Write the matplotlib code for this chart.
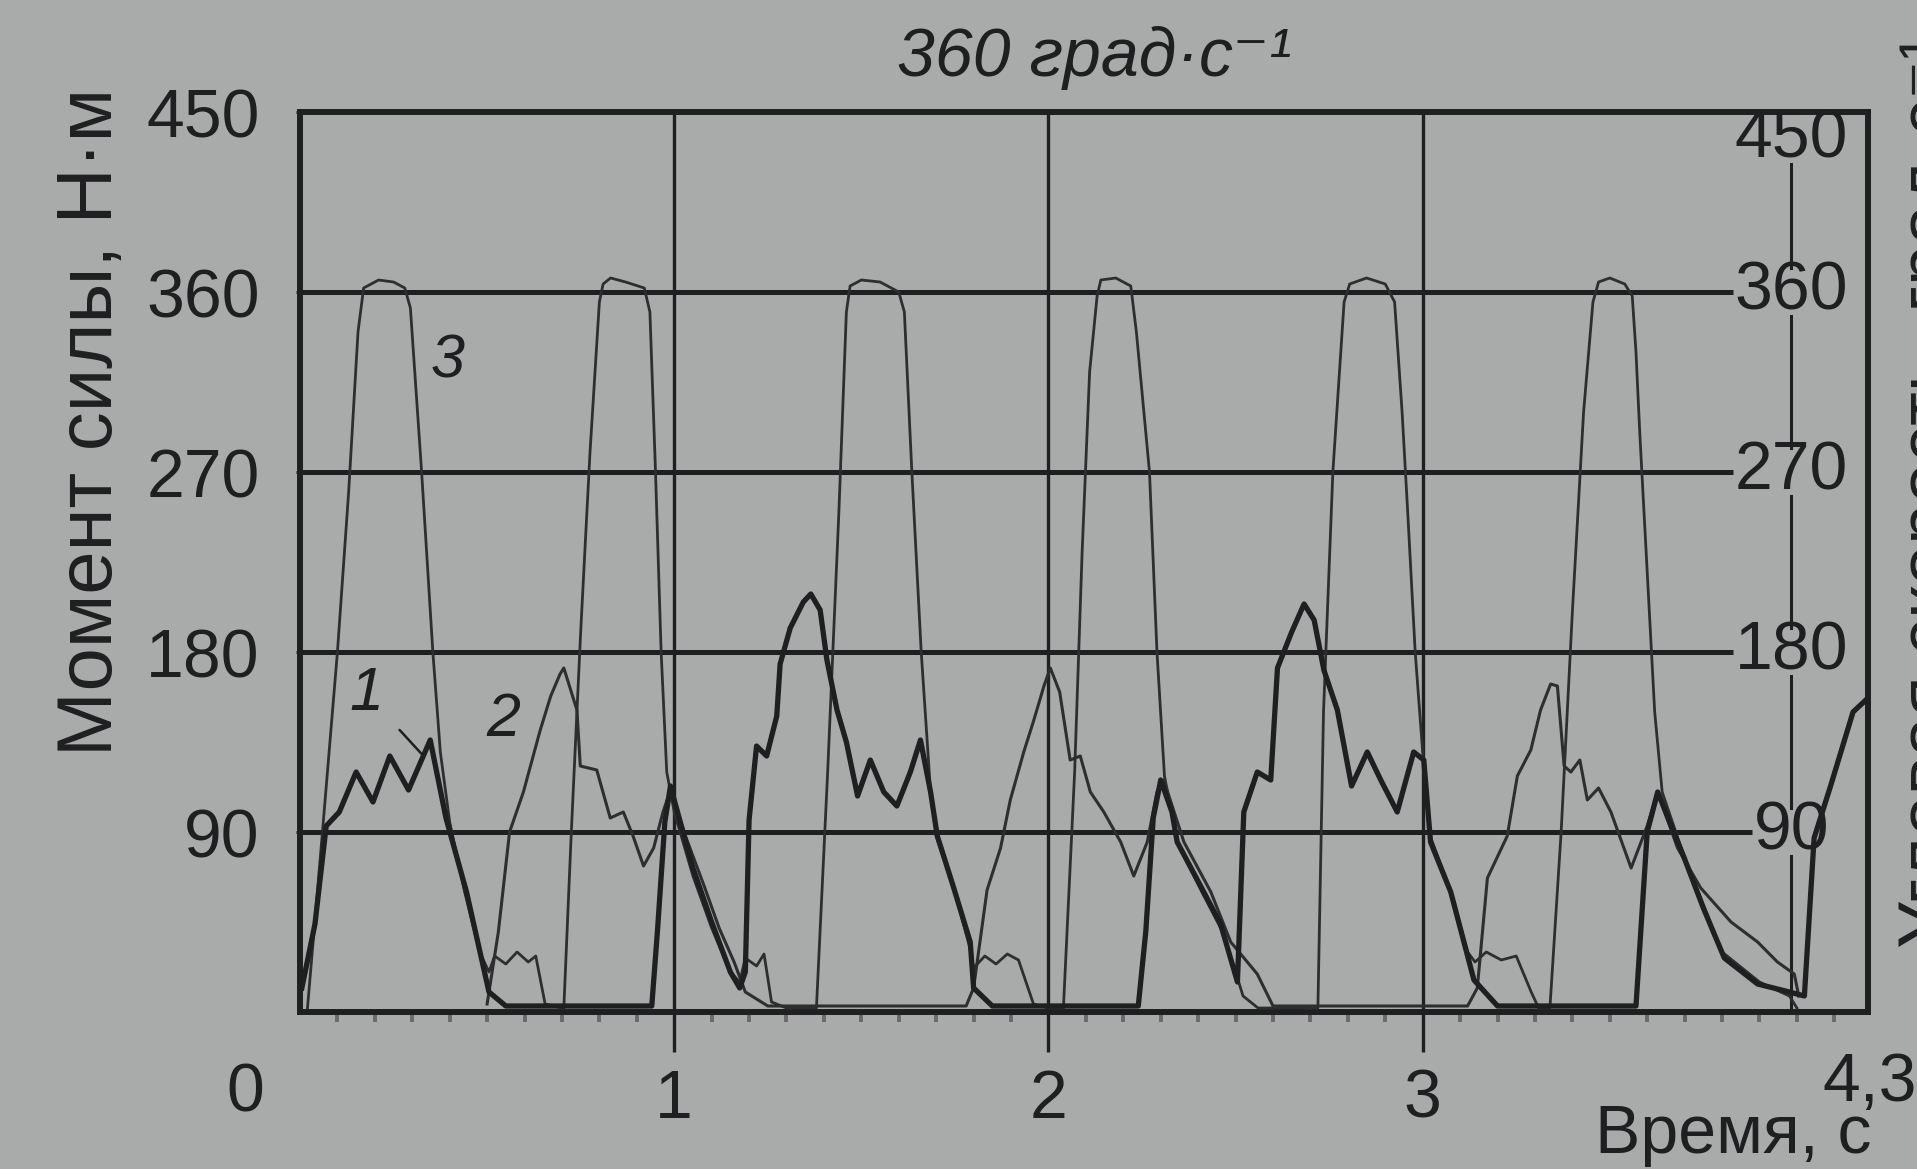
import numpy as np
import matplotlib
matplotlib.use('Agg')
import matplotlib.pyplot as plt

plt.rcParams['font.family'] = ['Liberation Sans', 'DejaVu Sans']

# --- values (time in s, values in N*m / deg/s) ---
# curve 1: thick trace (extension torque)
t1 = [0.005, 0.04, 0.07, 0.105, 0.15, 0.195, 0.24, 0.29, 0.348, 0.39, 0.445, 0.505, 0.55,
      0.94, 0.955, 0.975, 0.99, 1.0, 1.05, 1.10, 1.15, 1.175,
      1.19, 1.20, 1.22, 1.247, 1.274, 1.283, 1.31, 1.345, 1.365, 1.39, 1.408, 1.435, 1.46,
      1.49, 1.524, 1.56, 1.595, 1.631, 1.658, 1.685, 1.703, 1.747, 1.791, 1.80, 1.85,
      2.24, 2.26, 2.28, 2.30, 2.33, 2.344, 2.415, 2.46, 2.505,
      2.522, 2.558, 2.594, 2.612, 2.65, 2.683, 2.71, 2.736, 2.772, 2.81, 2.852, 2.888,
      2.932, 2.976, 3.003, 3.021, 3.075, 3.137, 3.20,
      3.57, 3.60, 3.628, 3.66, 3.699, 3.75, 3.806, 3.895, 3.98,
      4.02, 4.046, 4.09, 4.15, 4.19]
m1 = [12, 44, 93, 100, 120, 105, 128, 111, 136, 97, 60, 10, 3,
      3, 40, 95, 113, 106, 72, 45, 20, 12,
      20, 96, 133, 128, 148, 174, 192, 205, 209, 201, 176, 151, 135,
      108, 126, 110, 103, 120, 136, 110, 88, 62, 35, 12, 3,
      3, 40, 97, 116, 100, 85, 60, 44, 15,
      100, 120, 116, 172, 190, 204, 196, 171, 151, 113, 130, 116,
      100, 130, 126, 85, 60, 16, 3,
      3, 90, 110, 95, 77, 52, 27, 14, 10,
      8, 87, 113, 150, 157]

# curve 2: thin trace (flexion torque)
t2 = [0.50, 0.53, 0.56, 0.597, 0.642, 0.67, 0.695, 0.705, 0.74, 0.749, 0.793, 0.829, 0.864,
      0.89, 0.918, 0.945, 0.97, 0.99, 1.03, 1.08, 1.12, 1.16, 1.19, 1.25,
      1.78, 1.80, 1.836, 1.872, 1.898, 1.934, 1.961, 1.988, 2.005, 2.03, 2.058, 2.085,
      2.112, 2.148, 2.193, 2.228, 2.264, 2.29, 2.308, 2.362, 2.434, 2.487, 2.558, 2.60,
      3.12, 3.146, 3.173, 3.226, 3.253, 3.289, 3.315, 3.342, 3.36, 3.378, 3.396, 3.42,
      3.44, 3.47, 3.503, 3.557, 3.60, 3.628, 3.681, 3.743, 3.824, 3.895, 3.948, 3.993, 4.005]
m2 = [4, 40, 90, 110, 141, 158, 169, 172, 151, 123, 121, 97, 100,
      88, 73, 82, 100, 111, 88, 63, 42, 25, 10, 3,
      3, 12, 61, 82, 106, 130, 146, 163, 172, 160, 126, 128,
      110, 100, 85, 68, 85, 110, 116, 85, 60, 35, 19, 3,
      3, 12, 67, 88, 118, 131, 151, 164, 163, 123, 120, 126,
      106, 112, 100, 72, 93, 110, 82, 62, 45, 35, 25, 19, 8]

# curve 3: angular velocity (deg/s)
t3 = [0.02, 0.06, 0.10, 0.13, 0.155, 0.17, 0.21, 0.25, 0.28, 0.295, 0.325, 0.355, 0.375,
      0.40, 0.44, 0.48, 0.505, 0.52, 0.55, 0.58, 0.61, 0.63, 0.655, 0.70,
      0.705, 0.725, 0.75, 0.775, 0.80, 0.81, 0.83, 0.87, 0.92, 0.935, 0.95, 0.965, 0.98,
      1.0, 1.05, 1.10, 1.15, 1.175, 1.19, 1.22, 1.24, 1.26, 1.30,
      1.38, 1.41, 1.44, 1.46, 1.47, 1.50, 1.55, 1.60, 1.615, 1.635, 1.66, 1.685, 1.70,
      1.75, 1.79, 1.80, 1.83, 1.86, 1.89, 1.92, 1.96, 2.0,
      2.04, 2.07, 2.09, 2.11, 2.13, 2.14, 2.18, 2.22, 2.235, 2.27, 2.29, 2.31, 2.344,
      2.41, 2.46, 2.50, 2.52, 2.56,
      2.72, 2.735, 2.76, 2.79, 2.805, 2.85, 2.90, 2.925, 2.945, 2.96, 2.98, 3.0, 3.02,
      3.075, 3.12, 3.14, 3.17, 3.21, 3.25, 3.29, 3.31,
      3.34, 3.37, 3.40, 3.43, 3.455, 3.47, 3.50, 3.54, 3.56, 3.57, 3.58, 3.60, 3.62,
      3.64, 3.70, 3.80, 3.90, 3.98, 4.0]
w3 = [2, 90, 180, 260, 340, 362, 366, 365, 362, 352, 270, 180, 130,
      95, 60, 30, 20, 28, 24, 30, 25, 28, 4, 2,
      2, 90, 190, 280, 355, 364, 367, 365, 362, 350, 270, 180, 120,
      100, 68, 42, 20, 15, 27, 23, 29, 5, 2,
      2, 120, 250, 350, 363, 366, 365, 360, 350, 270, 180, 110, 88,
      60, 32, 22, 28, 24, 29, 26, 4, 2,
      2, 120, 230, 320, 358, 366, 367, 363, 340, 270, 180, 118, 85,
      60, 42, 20, 8, 2,
      2, 150, 270, 355, 364, 367, 364, 355, 300, 250, 180, 130, 88,
      60, 30, 25, 30, 26, 28, 10, 2,
      2, 90, 200, 300, 355, 365, 367, 364, 358, 330, 290, 220, 150,
      110, 77, 30, 15, 8, 2]

levels = [90, 180, 270, 360, 450]
level_labels = ['90', '180', '270', '360', '450']
sec_ticks = [1, 2, 3]
sec_labels = ['1', '2', '3']

bg = '#a9abaa'
ink = '#1f1f21'
thin_ink = '#2e2e30'
fs = 49

fig = plt.figure(figsize=(19.17, 11.69), dpi=100, facecolor=bg)
ax = fig.add_axes([300/1917, 1 - 1012/1169, 1568/1917, 900/1169], facecolor=bg)
ax.set_xlim(0, 4.19)
ax.set_ylim(0, 450)

for s in ax.spines.values():
    s.set_linewidth(4.3)
    s.set_color(ink)

# vertical second lines
for t in sec_ticks:
    ax.axvline(t, color=ink, lw=2.4, zorder=2)

# curves
ax.plot(t3, w3, color=thin_ink, lw=2.0, zorder=3, solid_joinstyle='round')
ax.plot(t2, m2, color=thin_ink, lw=2.2, zorder=3, solid_joinstyle='round')
ax.plot(t1, m1, color=ink, lw=3.8, zorder=4, solid_joinstyle='round')

# curve numbers
ax.annotate('1', xy=(0.33, 128), xytext=(0.178, 159), fontsize=fs - 5, style='italic',
            ha='center', va='center', color=ink,
            arrowprops=dict(arrowstyle='-', color=ink, lw=1.8, shrinkA=14, shrinkB=0))
ax.text(0.543, 146, '2', fontsize=fs - 5, style='italic', ha='center', va='center', color=ink)
ax.text(0.395, 325, '3', fontsize=fs - 5, style='italic', ha='center', va='center', color=ink)

# axes ticks
ax.set_xticks(sec_ticks)
ax.set_xticklabels(sec_labels)
ax.set_xticks([x / 10 for x in range(1, 42)], minor=True)
ax.tick_params(axis='x', which='major', direction='out', length=29, width=2.4, color=ink,
               pad=11, labelsize=fs, labelcolor=ink)
ax.tick_params(axis='x', which='minor', direction='out', length=7, width=2.8, color='#6a6a6a')
ax.set_yticks(levels)
ax.set_yticklabels(level_labels)
ax.tick_params(axis='y', length=3, width=2, color=ink, pad=26, labelsize=fs, labelcolor=ink)

# velocity scale written inside the frame at t ~ 4 s
x_sc = 3.985
right_txt = []
for v, lab in zip(levels, level_labels):
    yv = 436 if v == 450 else v
    right_txt.append(ax.text(x_sc, yv, lab, fontsize=fs, ha='center', va='center',
                             color=ink, zorder=6))

fig.canvas.draw()
rend = fig.canvas.get_renderer()
inv = ax.transData.inverted()
boxes = [txt.get_window_extent(rend).transformed(inv) for txt in right_txt]

for v, bb in zip(levels[:-1], boxes[:-1]):
    ax.plot([0, bb.x0 - 0.005], [v, v], color=ink, lw=3.6, zorder=2, solid_capstyle='butt')

seg_lo = 0
for bb in boxes:
    ax.plot([x_sc, x_sc], [seg_lo, bb.y0 + 4], color=ink, lw=2.2, zorder=2)
    seg_lo = bb.y1 - 4

# outer texts
fig.text(1094/1917, 1 - 58/1169, '360 град·с⁻¹', fontsize=fs, style='italic',
         ha='center', va='center', color=ink)
fig.text(92/1917, 1 - 422/1169, 'Момент силы, Н·м', fontsize=56, rotation=90,
         ha='center', va='center', color=ink)
fig.text(1897/1917, 1 - 492/1169, 'Угловая скорость, град·с⁻¹', fontsize=53,
         rotation=90, ha='left', va='center', color=ink)
fig.text(245/1917, 1 - 1094/1169, '0', fontsize=fs, ha='center', va='center', color=ink)
fig.text(1822/1917, 1 - 1083/1169, '4,3', fontsize=fs, ha='left', va='center', color=ink)
fig.text(1871/1917, 1 - 1167/1169, 'Время, с', fontsize=49, ha='right', va='bottom',
         color=ink)

fig.savefig('out.png', dpi=100, facecolor=bg)
